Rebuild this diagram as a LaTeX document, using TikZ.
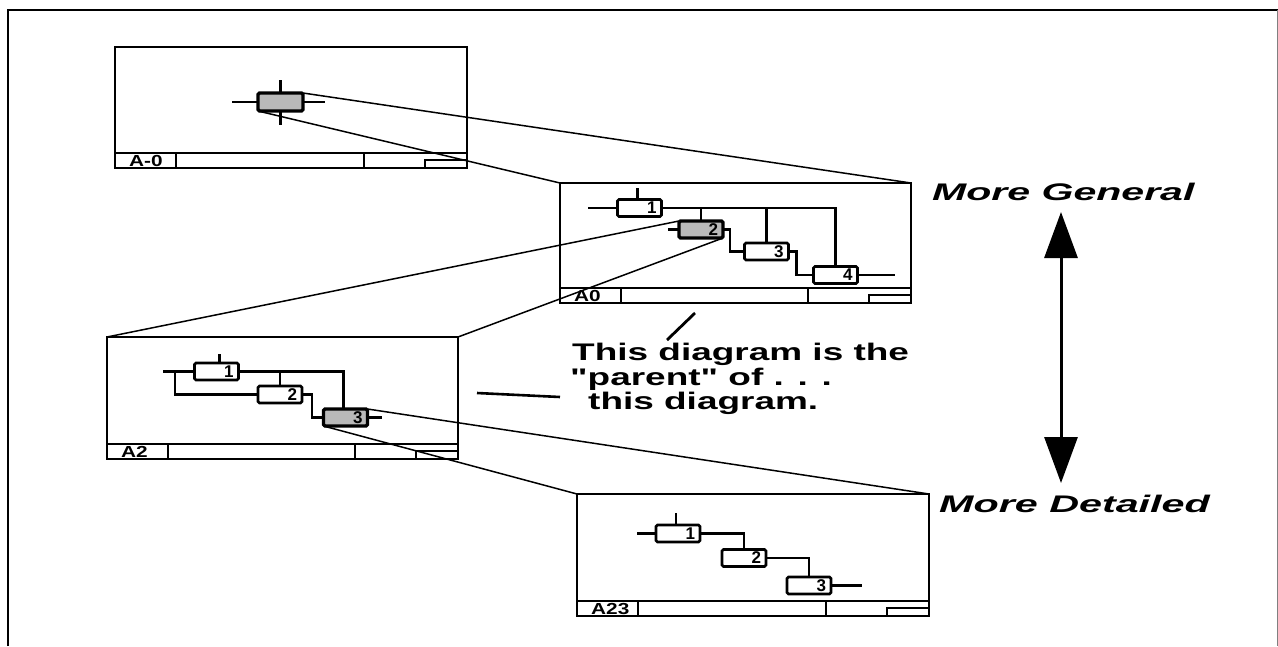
\documentclass[tikz,border=0pt]{standalone}
\usepackage{fontspec}
\setmainfont{Liberation Sans}[Ligatures=TeXOff]
\usetikzlibrary{arrows.meta,calc}
\tikzset{
  frm/.style={draw, line width=2.8pt, inner sep=0pt, outer sep=0pt},
  frl/.style={line width=2.6pt},
  bx/.style={draw, line width=2.8pt, rounded corners=1.5pt, minimum width=44pt, minimum height=17pt,
    inner sep=0pt, outer sep=0pt, text width=34pt, align=right, font=\bfseries\fontsize{17}{17}\selectfont},
  sbx/.style={bx, fill=gray!55, line width=3.4pt},
  wire/.style={line width=2.5pt},
  link/.style={line width=1.5pt},
  lab/.style={font=\bfseries\fontsize{16}{16}\selectfont, inner sep=0pt},
  bigit/.style={font=\bfseries\itshape\fontsize{24}{24}\selectfont, inner sep=0pt, anchor=base west},
  note/.style={font=\bfseries\fontsize{24}{24}\selectfont, inner sep=0pt, anchor=base west}
}
\newcommand{\titlebarfor}[2]{%
  \draw[frl] ([yshift=15pt]#1.south west) -- ([yshift=15pt]#1.south east);
  \draw[frl] ([xshift=61pt]#1.south west) -- ([xshift=61pt,yshift=15pt]#1.south west);
  \draw[frl] ([xshift=-103pt]#1.south east) -- ([xshift=-103pt,yshift=15pt]#1.south east);
  \draw[frl] ([xshift=-42pt]#1.south east) -- ([xshift=-42pt,yshift=8pt]#1.south east) -- ([yshift=8pt]#1.south east);
  \node[lab, anchor=west] (#1-id) at ([xshift=14pt,yshift=7.5pt]#1.south west) {\scalebox{1.3}[1]{#2}};
}
\begin{document}
\begin{tikzpicture}[x=1pt,y=-1pt]
\useasboundingbox (0,0) rectangle (1278,646);
% outer frame
\draw[line width=2.8pt] (8,646) -- (8,10) -- (1278,10);
\draw[gray, line width=1pt] (1277,10) -- (1277,646);

% ---------- A-0 ----------
\node[frm, minimum width=352pt, minimum height=121pt] (fAm0) at (291,107.5) {};
\titlebarfor{fAm0}{A-0}
\node[sbx, minimum width=45pt, minimum height=18pt] (am0b) at (280.5,102) {};
\draw[wire] (am0b.west) -- ++(-26,0);
\draw[wire] (am0b.east) -- ++(22,0);
\draw[wire] (am0b.north) -- ++(0,-13);
\draw[wire] (am0b.south) -- ++(0,14);

% ---------- A0 ----------
\node[frm, minimum width=351pt, minimum height=120pt] (fA0) at (735.5,243) {};
\titlebarfor{fA0}{A0}
\node[bx] (a0b1) at (639.5,208) {1};
\node[sbx] (a0b2) at (701,229.5) {2};
\node[bx] (a0b3) at (766.5,251.5) {3};
\node[bx] (a0b4) at (835.5,275) {4};
\draw[wire] (a0b1.west) -- ++(-30,0);
\draw[wire] ([xshift=-2pt]a0b1.north) -- ++(0,-12);
\draw[wire] (a0b1.east) -| (a0b4.north);
\draw[wire] (a0b2.north) -- (a0b2.north |- a0b1.east);
\draw[wire] (a0b3.north) -- (a0b3.north |- a0b1.east);
\draw[wire] (a0b2.west) -- ++(-11,0);
\draw[wire] (a0b2.east) -- ++(7,0) |- (a0b3.west);
\draw[wire] (a0b3.east) -- ++(8,0) |- (a0b4.west);
\draw[wire] (a0b4.east) -- ++(37,0);

% ---------- A2 ----------
\node[frm, minimum width=351pt, minimum height=122pt] (fA2) at (282.5,398) {};
\titlebarfor{fA2}{A2}
\node[bx] (a2b1) at (216.5,371.5) {1};
\node[bx] (a2b2) at (280,394.5) {2};
\node[sbx] (a2b3) at (345.5,417.5) {3};
\coordinate (a2fb) at (175,371.5);
\draw[wire] (a2b1.west) -- ++(-32,0);
\draw[wire] ([xshift=3pt]a2b1.north) -- ++(0,-9);
\draw[wire] (a2fb) |- (a2b2.west);
\draw[wire] (a2b1.east) -| ([xshift=-2pt]a2b3.north);
\draw[wire] (a2b2.north) -- (a2b2.north |- a2b1.east);
\draw[wire] (a2b2.east) -- ++(10,0) |- (a2b3.west);
\draw[wire] (a2b3.east) -- ++(14,0);

% ---------- A23 ----------
\node[frm, minimum width=352pt, minimum height=122pt] (fA23) at (753,555) {};
\titlebarfor{fA23}{A23}
\node[bx] (a23b1) at (678,533.5) {1};
\node[bx] (a23b2) at (744,558) {2};
\node[bx] (a23b3) at (809,585.5) {3};
\draw[wire] (a23b1.west) -- ++(-19,0);
\draw[wire] ([xshift=-2pt]a23b1.north) -- ++(0,-12);
\draw[wire] (a23b1.east) -| (a23b2.north);
\draw[wire] (a23b2.east) -| (a23b3.north);
\draw[wire] (a23b3.east) -- ++(31,0);

% ---------- links between levels ----------
\draw[link] (am0b.north east) -- (fA0.north east);
\draw[link] (am0b.south west) -- (fA0.north west);
\draw[link] (a0b2.north west) -- (fA2.north west);
\draw[link] (a0b2.south east) -- (fA2.north east);
\draw[link] (a2b3.north east) -- (fA23.north east);
\draw[link] (a2b3.south west) -- (fA23.north west);

% ---------- annotations ----------
\node[bigit] (gen) at (932,200) {\scalebox{1.71}[1]{More General}};
\node[bigit] (det) at (939,512) {\scalebox{1.72}[1]{More Detailed}};
\coordinate (arrtop) at (1061,212);
\coordinate (arrbot) at (1061,483);
\draw[line width=3pt, {Triangle[length=46pt,width=33pt]}-{Triangle[length=46pt,width=33pt]}] (arrtop) -- (arrbot);

\node[note] (t1) at (572,360) {\scalebox{1.54}[1]{This diagram is the}};
\node[note] (t2) at (570,385) {\scalebox{1.54}[1]{"parent" of . . .}};
\node[note] (t3) at (588,409) {\scalebox{1.54}[1]{this diagram.}};
\coordinate (p1a) at (667,340);
\coordinate (p1b) at (695,313);
\coordinate (p2a) at (477,393);
\coordinate (p2b) at (560,397);
\draw[line width=2.8pt] (p1a) -- (p1b);
\draw[line width=2.6pt] (p2a) -- (p2b);
\end{tikzpicture}
\end{document}
